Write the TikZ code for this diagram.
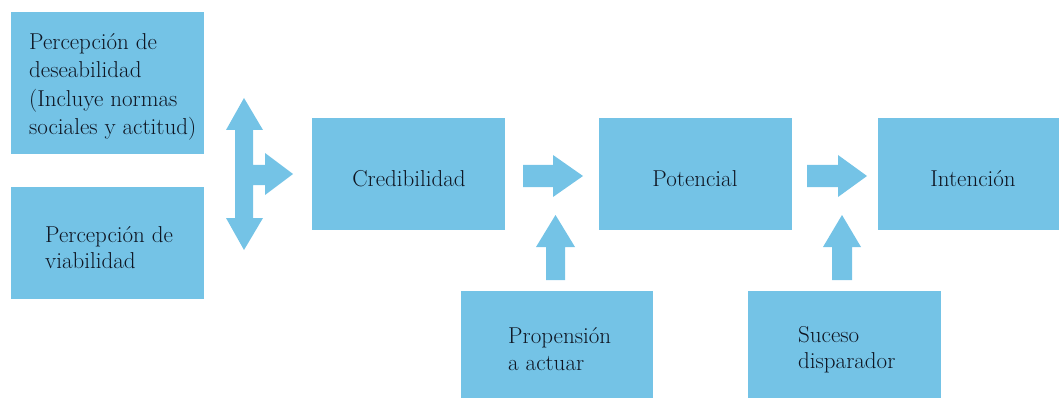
\documentclass[tikz,border=0pt]{standalone}
\usepackage{fontspec}
\definecolor{boxblue}{RGB}{116,195,230}
\definecolor{txt}{RGB}{15,22,35}
\begin{document}
\begin{tikzpicture}[x=1pt,y=-1pt,
  box/.style={fill=boxblue,draw=none,inner sep=0pt,anchor=north west},
  lbl/.style={inner sep=0pt,anchor=base west,text=txt,font=\rmfamily\fontsize{23}{28}\selectfont},
  clbl/.style={inner sep=0pt,anchor=base,text=txt,font=\rmfamily\fontsize{23}{28}\selectfont},
  blockarrow/.style={fill=boxblue,draw=none}]
\useasboundingbox (0,0) rectangle (1059,398);
\node[box,minimum width=193pt,minimum height=142pt] (des) at (11,12) {};
\node[box,minimum width=193pt,minimum height=112pt] (via) at (11,187) {};
\node[box,minimum width=193pt,minimum height=112pt] (cred) at (312,118) {};
\node[box,minimum width=193pt,minimum height=112pt] (pot) at (599,118) {};
\node[box,minimum width=181pt,minimum height=112pt] (int) at (878,118) {};
\node[box,minimum width=192pt,minimum height=107pt] (prop) at (461,291) {};
\node[box,minimum width=193pt,minimum height=107pt] (suc) at (748,291) {};
\node[lbl] (t1a) at (29,50) {Percepción de};
\node[lbl] (t1b) at (29,78) {deseabilidad};
\node[lbl] (t1c) at (29,107) {(Incluye normas};
\node[lbl] (t1d) at (29,135) {sociales y actitud)};
\node[lbl] (t2a) at (45,242) {Percepción de};
\node[lbl] (t2b) at (45,268) {viabilidad};
\node[clbl] (t3) at (409,186) {Credibilidad};
\node[clbl] (t4) at (695,186) {Potencial};
\node[clbl] (t5) at (973,186) {Intención};
\node[lbl] (t6a) at (508,343) {Propensión};
\node[lbl] (t6b) at (508,370) {a actuar};
\node[lbl] (t7a) at (798,342) {Suceso};
\node[lbl] (t7b) at (798,368) {disparador};
\fill[blockarrow] (244,98) -- (263,130) -- (253,130) -- (253,165) -- (265,165) -- (265,153)
  -- (293,174) -- (265,195) -- (265,185) -- (253,185) -- (253,218) -- (263,218)
  -- (244,250) -- (226,218) -- (235,218) -- (235,130) -- (226,130) -- cycle;
\fill[blockarrow] (523,165) -- (553,165) -- (553,155) -- (583,176) -- (553,197) -- (553,187) -- (523,187) -- cycle;
\fill[blockarrow] (546,280) -- (546,247) -- (536,247) -- (555.5,215) -- (575,247) -- (565,247) -- (565,280) -- cycle;
\fill[blockarrow] (807,165) -- (838,165) -- (838,155) -- (867,176) -- (838,197) -- (838,187) -- (807,187) -- cycle;
\fill[blockarrow] (832,280) -- (832,247) -- (823,247) -- (842,215) -- (861,247) -- (852,247) -- (852,280) -- cycle;
\end{tikzpicture}
\end{document}
